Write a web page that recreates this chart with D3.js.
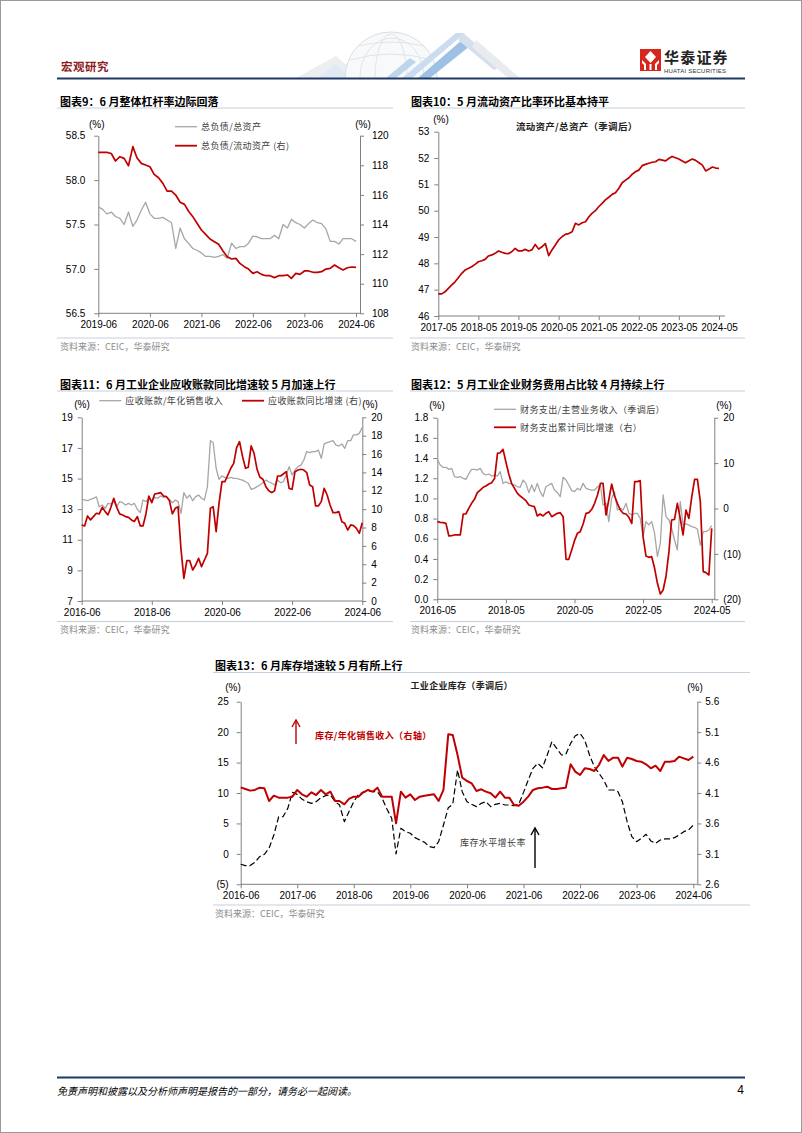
<!DOCTYPE html>
<html><head><meta charset="utf-8">
<script src="https://cdn.jsdelivr.net/npm/d3@7"></script>
<style>
body{margin:0;background:#fff;}
svg{display:block;}
</style></head><body>
<svg id="page" width="802" height="1133"></svg>
<script>
// ---------------- DATA ----------------
// Chart 9 : monthly 2019-06 .. 2024-06
const c9Start = [2019, 6];
const c9Debt2Asset = [57.70,57.67,57.62,57.64,57.59,57.57,57.50,57.64,57.48,57.55,57.66,57.75,57.62,57.57,57.57,57.58,57.55,57.52,57.23,57.46,57.34,57.29,57.23,57.21,57.18,57.14,57.14,57.13,57.14,57.16,57.12,57.29,57.23,57.25,57.25,57.29,57.37,57.36,57.34,57.34,57.34,57.38,57.34,57.50,57.46,57.56,57.52,57.50,57.46,57.51,57.55,57.52,57.51,57.45,57.31,57.31,57.28,57.34,57.34,57.34,57.31];
const c9Debt2Current = [118.87,118.87,118.87,118.8,118.29,118.58,118.47,117.97,119.26,118.51,118.13,118.02,117.9,117.39,117.16,116.78,116.26,116.26,115.99,115.5,115.36,114.91,114.53,114.08,113.63,113.33,113.02,112.84,112.66,112.21,111.82,111.67,111.71,111.37,111.15,110.99,110.70,110.81,110.63,110.54,110.54,110.41,110.54,110.54,110.59,110.36,110.70,110.63,110.86,110.86,110.77,110.77,110.81,110.99,111.04,111.26,111.08,110.93,111.08,111.13,111.1];
const c9LeftTicks = [56.5,57.0,57.5,58.0,58.5];
const c9RightTicks = [108,110,112,114,116,118,120];
const c9XTicks = ["2019-06","2020-06","2021-06","2022-06","2023-06","2024-06"];

// Chart 10 : monthly 2017-05 .. 2024-05
const c10Start = [2017, 5];
const c10Current2Asset = [46.84,46.84,46.92,47.05,47.18,47.30,47.46,47.62,47.75,47.81,47.87,47.96,48.06,48.10,48.15,48.28,48.32,48.38,48.47,48.42,48.38,48.37,48.44,48.57,48.47,48.47,48.53,48.47,48.51,48.72,48.54,48.63,48.75,48.29,48.51,48.70,48.89,49.01,49.10,49.13,49.20,49.52,49.46,49.54,49.58,49.77,49.90,50.00,50.15,50.28,50.41,50.51,50.62,50.68,50.85,51.06,51.16,51.25,51.38,51.48,51.54,51.71,51.76,51.80,51.84,51.86,51.95,51.92,51.89,51.99,52.06,52.01,51.96,51.89,51.82,51.90,51.96,51.91,51.82,51.73,51.51,51.58,51.66,51.62,51.61];
const c10LeftTicks = [46,47,48,49,50,51,52,53];
const c10XTicks = ["2017-05","2018-05","2019-05","2020-05","2021-05","2022-05","2023-05","2024-05"];

// Chart 11 : monthly 2016-06 .. 2024-06
const c11Start = [2016, 6];
const c11Recv2Sales = [13.64,13.6,13.55,13.64,13.7,13.8,13.16,13.27,13.05,13.38,13.34,13.49,13.16,13.49,13.42,13.27,13.38,13.27,13.38,12.99,12.77,13.6,13.49,13.71,13.53,13.77,13.71,13.86,13.77,13.82,13.64,13.42,13.6,13.49,12.73,14.08,13.71,13.92,13.55,13.82,13.92,13.71,13.6,14.47,17.47,17.34,15.67,14.95,15.17,15.08,15.01,15.08,15.01,15.01,14.95,14.9,14.79,14.69,14.29,14.36,14.47,14.58,14.73,14.9,14.79,14.69,14.58,14.9,14.73,14.79,15.23,15.78,15.23,15.56,15.78,15.88,16.21,16.76,16.69,16.76,16.76,16.86,16.32,17.26,17.34,17.41,17.47,17.19,17.13,17.26,16.97,17.47,17.47,17.85,17.85,17.95,18.35];
const c11RecvYoY = [8.28,8.17,9.26,8.83,9.19,9.55,9.48,10.2,9.73,9.37,10.2,11.18,10.2,9.48,9.37,9.19,9.11,8.83,8.65,9.19,8.17,8.17,9.48,11.43,10.71,11.65,11.72,11.8,11.43,11.36,10.93,9.48,10.1,10.27,5.63,2.47,4.39,4.39,3.38,3.92,4.65,3.74,4.46,5.19,10.1,10.27,7.55,10.64,13.0,13.0,13.72,14.45,14.99,16.73,17.35,15.72,14.45,14.56,16.88,16.08,14.34,13.47,13.25,12.45,12.01,11.8,12.01,13.61,13.61,13.83,14.08,12.26,12.16,14.08,14.26,14.34,14.26,13.97,12.63,12.45,10.35,10.35,10.82,12.27,11.54,10.45,9.62,9.62,9.73,8.64,8.46,7.73,8.28,8.21,7.91,7.37,8.53];
const c11LeftTicks = [7,9,11,13,15,17,19];
const c11RightTicks = [0,2,4,6,8,10,12,14,16,18,20];
const c11XTicks = ["2016-06","2018-06","2020-06","2022-06","2024-06"];

// Chart 12 : monthly 2016-05 .. 2024-05
const c12Start = [2016, 5];
const c12Fin2Rev = [1.387,1.331,1.308,1.308,1.288,1.298,1.215,1.209,1.215,1.199,1.189,1.242,1.288,1.288,1.281,1.298,1.248,1.232,1.242,1.222,1.232,1.222,1.265,1.149,1.165,1.149,1.143,1.133,1.116,1.110,1.182,1.149,1.057,1.133,1.067,1.149,1.067,1.017,1.116,1.133,1.149,1.083,1.057,1.017,1.209,1.182,1.133,1.077,1.067,1.100,1.083,1.149,1.100,1.090,1.083,1.083,1.116,1.133,0.935,0.951,0.770,1.001,1.067,0.885,0.902,0.885,0.951,0.852,0.836,0.852,0.852,0.803,0.621,0.770,0.737,0.770,0.654,0.423,0.555,1.034,0.819,0.786,0.704,0.588,0.489,0.968,0.737,0.747,0.737,0.720,0.714,0.694,0.538,0.671,0.671,0.687,0.730];
const c12FinYoY = [-2.9,-3.05,-3.12,-3.27,-6.06,-5.98,-5.83,-5.83,-5.83,-1.21,-1.21,0.04,1.14,2.02,3.49,4.07,4.66,4.95,5.39,5.69,6.64,12.15,12.29,13.03,10.31,7.6,5.54,4.44,3.34,2.75,2.24,1.72,0.77,0.55,0.4,-1.65,-1.21,-1.65,-1.06,-0.7,-1.8,-1.43,-1.06,-0.92,-1.8,-11.19,-11.19,-9.14,-7.08,-5.47,-5.1,-3.41,-1.06,-0.92,-0.18,1.14,2.97,5.54,5.54,-1.43,1.87,5.39,2.75,1.14,-0.33,-1.06,-1.21,-1.94,-3.27,5.91,5.91,6.13,-6.2,-10.46,-10.75,-10.61,-13.17,-16.48,-18.83,-17.95,-14.86,-9.5,-2.53,-2.39,1.14,-2.17,-5.83,-0.33,-2.17,2.46,6.42,6.42,1.5,-13.91,-14.13,-14.64,-4.37];
const c12LeftTicks = [0.0,0.2,0.4,0.6,0.8,1.0,1.2,1.4,1.6,1.8];
const c12RightTicks = [-20,-10,0,10,20];
const c12XTicks = ["2016-05","2018-05","2020-05","2022-05","2024-05"];

// Chart 13 : monthly 2016-06 .. 2024-06
const c13Start = [2016, 6];
const c13InvGrowth = [-1.71,-1.93,-1.93,-1.39,-0.46,-0.07,0.91,3.1,6.1,6.1,7.47,10.1,9.77,9.0,8.57,8.3,8.57,9.23,9.56,9.67,8.57,8.03,5.29,6.93,8.57,9.77,10.1,10.32,10.21,10.21,9.12,7.37,5.84,0.0,4.2,3.65,3.38,2.67,2.28,1.9,1.19,1.03,2.0,4.74,7.59,8.14,13.78,10.21,8.57,8.14,7.76,8.3,8.57,7.76,8.14,8.3,8.03,8.03,7.92,8.14,10.1,12.13,14.05,14.87,14.15,16.24,18.43,17.33,16.24,16.35,18.15,19.41,19.79,18.7,16.24,14.32,13.22,12.13,10.49,10.49,10.21,8.57,5.29,2.83,2.0,2.55,3.21,2.12,1.73,2.28,2.45,2.45,2.67,3.1,3.65,3.92,4.74];
const c13Inv2Sales = [4.193,4.166,4.139,4.150,4.188,4.177,3.969,4.056,4.024,4.024,4.024,4.040,4.150,4.078,4.040,4.111,4.067,4.150,4.078,4.122,3.969,3.969,3.914,4.002,4.040,4.040,4.111,4.150,4.122,4.188,4.040,4.040,4.040,3.602,4.122,4.024,4.078,3.985,4.040,4.056,4.067,4.078,3.969,4.150,5.064,5.053,4.724,4.352,4.297,4.259,4.133,4.161,4.122,4.095,4.024,4.122,4.024,4.024,3.903,3.892,3.958,4.040,4.150,4.177,4.188,4.204,4.166,4.166,4.177,4.188,4.571,4.451,4.396,4.505,4.494,4.462,4.560,4.724,4.626,4.680,4.680,4.533,4.680,4.659,4.626,4.615,4.571,4.505,4.549,4.462,4.615,4.615,4.626,4.697,4.669,4.642,4.697];
const c13LeftTicks = [-5,0,5,10,15,20,25];
const c13RightTicks = [2.6,3.1,3.6,4.1,4.6,5.1,5.6];
const c13XTicks = ["2016-06","2017-06","2018-06","2019-06","2020-06","2021-06","2022-06","2023-06","2024-06"];

// ---------------- HELPERS ----------------
const CJK = '"Noto Sans CJK SC","Noto Sans",sans-serif';
const LAT = '"Liberation Sans",Arial,sans-serif';
const RED = "#C00000", GRAY = "#A6A6A6", AX = "#808080";
const page = d3.select("#page");
const parseYM = d3.timeParse("%Y-%m");
const fmtYM = d3.timeFormat("%Y-%m");
function months(start, n){ return d3.range(n).map(i => new Date(start[0], start[1]-1+i, 1)); }
const paren = v => v < 0 ? "(" + Math.abs(v) + ")" : String(v);
const f1 = d3.format(".1f");

function txt(g, x, y, s, o){
  o = o || {};
  return g.append("text").attr("x", x).attr("y", y).text(s)
    .attr("font-family", o.family || CJK).attr("font-size", o.size || 9)
    .attr("font-weight", o.weight || 400).attr("fill", o.fill || "#000")
    .attr("text-anchor", o.anchor || "start").attr("dominant-baseline", "central")
    .attr("font-style", o.style || "normal")
    .attr("letter-spacing", o.ls || 0);
}
function styleAxis(a){
  a.attr("font-family", LAT).attr("font-size", 10);
  a.select(".domain").attr("stroke", AX);
  a.selectAll(".tick line").attr("stroke", AX);
  a.selectAll(".tick text").attr("fill", "#000");
}
function panelFrame(p){
  const g = page.append("g");
  txt(g, p.tx, p.ty, p.title, {size: 11, weight: 700});
  g.append("line").attr("x1", p.lx0).attr("x2", p.lx1).attr("y1", p.uy).attr("y2", p.uy).attr("stroke", "#C5D0DC").attr("stroke-width", 1);
  g.append("line").attr("x1", p.lx0).attr("x2", p.lx1).attr("y1", p.sy).attr("y2", p.sy).attr("stroke", "#C5D0DC").attr("stroke-width", 1);
  txt(g, p.tx, p.sy + 8, "资料来源：CEIC，华泰研究", {size: 9, fill: "#8C8C8C"});
  return g;
}
function chart(c){
  const g = page.append("g");
  const x = d3.scaleTime().domain([c.dates[0], c.dates[c.dates.length-1]]).range([c.x0, c.x1]);
  const yL = d3.scaleLinear().domain(c.ld).range([c.yb, c.yt]);
  const yR = c.rd ? d3.scaleLinear().domain(c.rd).range([c.yb, c.yt]) : null;
  const la = g.append("g").attr("transform", `translate(${c.x0},0)`)
    .call(d3.axisLeft(yL).tickValues(c.lt).tickFormat(c.lf).tickSize(4).tickSizeOuter(0).tickPadding(c.lp));
  styleAxis(la);
  if (yR){
    const ra = g.append("g").attr("transform", `translate(${c.xe},0)`)
      .call(d3.axisRight(yR).tickValues(c.rt).tickFormat(c.rf).tickSize(4).tickSizeOuter(0).tickPadding(c.rp));
    styleAxis(ra);
  }
  const ba = g.append("g").attr("transform", `translate(0,${c.yb})`)
    .call(d3.axisBottom(x).tickValues(c.xt.map(parseYM)).tickFormat(fmtYM).tickSize(4).tickSizeOuter(0).tickPadding(4));
  styleAxis(ba);
  ba.select(".domain").remove();
  g.append("line").attr("x1", c.x0).attr("x2", c.xe).attr("y1", c.yb).attr("y2", c.yb).attr("stroke", AX);
  c.series.forEach(s => {
    const y = s.axis === "r" ? yR : yL;
    g.append("path").datum(s.values)
      .attr("d", d3.line().x((d, i) => x(c.dates[i])).y(d => y(d)))
      .attr("fill", "none").attr("stroke", s.color).attr("stroke-width", s.width)
      .attr("stroke-dasharray", s.dash || null).attr("stroke-linejoin", "round");
  });
  txt(g, c.ulx, c.uy, "(%)", {family: LAT, size: 10, anchor: "middle"});
  if (c.urx) txt(g, c.urx, c.uy, "(%)", {family: LAT, size: 10, anchor: "middle"});
  return g;
}
function legendItem(g, x, y, color, w, label){
  g.append("line").attr("x1", x).attr("x2", x + 22).attr("y1", y).attr("y2", y).attr("stroke", color).attr("stroke-width", w);
  txt(g, x + 26, y, label, {size: 9, fill: "#404040", ls: 0.4});
}

// ---------------- PAGE HEADER / FOOTER ----------------
page.append("rect").attr("x", 0.5).attr("y", 0.5).attr("width", 801).attr("height", 1132).attr("fill", "#fff").attr("stroke", "#9A9A9A");
const deco = page.append("g").attr("opacity", 0.75);
deco.append("path").attr("d", "M296,78 L336,56 L362,78 Z").attr("fill", "#E6EAEE");
deco.append("path").attr("d", "M318,78 L336,64 L350,78 Z").attr("fill", "#D5E3F1");
deco.append("path").attr("d", "M345,78 A46,46 0 0 1 437,78").attr("fill", "#F6F8FA").attr("stroke", "#CDD4DC");
deco.append("path").attr("d", "M360,78 A32,40 0 0 1 424,78").attr("fill", "none").attr("stroke", "#D6DCE2");
deco.append("path").attr("d", "M375,78 A16,44 0 0 1 407,78").attr("fill", "none").attr("stroke", "#D6DCE2");
deco.append("path").attr("d", "M350,60 Q391,48 432,60").attr("fill", "none").attr("stroke", "#D6DCE2");
deco.append("path").attr("d", "M358,46 Q391,38 424,46").attr("fill", "none").attr("stroke", "#D6DCE2");
deco.append("path").attr("d", "M402,78 L456,33 L465,33 L412,78 Z").attr("fill", "#B9D2EB");
deco.append("path").attr("d", "M418,78 L462,40 L470,46 L430,78 Z").attr("fill", "#7DACDB");
deco.append("path").attr("d", "M463,33 L502,66 L494,70 L458,40 Z").attr("fill", "#C9D6E3");
deco.append("path").attr("d", "M476,40 L520,78 L508,78 L472,47 Z").attr("fill", "#E1E5EA");
deco.append("path").attr("d", "M386,78 L410,58 L416,62 L396,78 Z").attr("fill", "#A9C7E6");

txt(page, 61, 66, "宏观研究", {size: 11.5, weight: 700, fill: "#8C1C1C", ls: 0.5});
const logo = page.append("g");
logo.append("rect").attr("x", 640).attr("y", 49).attr("width", 21).attr("height", 22).attr("fill", "#D7261E");
logo.append("path").attr("d", "M650.5,51 L656,57 L650.5,63 L645,57 Z").attr("fill", "#fff");
logo.append("path").attr("d", "M642,60 L646,64 L646,70 L644,70 L644,65 L642,63 Z").attr("fill", "#fff");
logo.append("path").attr("d", "M659,60 L655,64 L655,70 L657,70 L657,65 L659,63 Z").attr("fill", "#fff");
logo.append("rect").attr("x", 649.5).attr("y", 64).attr("width", 2).attr("height", 6).attr("fill", "#fff");
txt(logo, 664, 56.5, "华泰证券", {size: 15, weight: 700, fill: "#222", ls: 1.2});
txt(logo, 664, 70.5, "HUATAI SECURITIES", {family: LAT, size: 6, fill: "#333", ls: 0.2});
page.append("line").attr("x1", 57).attr("x2", 745).attr("y1", 78.5).attr("y2", 78.5).attr("stroke", "#1F3864").attr("stroke-width", 2);

page.append("line").attr("x1", 57).attr("x2", 745).attr("y1", 1077.5).attr("y2", 1077.5).attr("stroke", "#1F3864").attr("stroke-width", 2);
txt(page, 57, 1090, "免责声明和披露以及分析师声明是报告的一部分，请务必一起阅读。", {size: 10, style: "italic", fill: "#000"});
txt(page, 744, 1090, "4", {family: LAT, size: 12, anchor: "end"});

// ---------------- CHART 9 ----------------
panelFrame({tx: 60, ty: 100.5, title: "图表9：6 月整体杠杆率边际回落", lx0: 57, lx1: 393, uy: 108, sy: 338});
const c9g = chart({
  dates: months(c9Start, c9Debt2Asset.length), x0: 98.3, x1: 356, xe: 360, yt: 135.7, yb: 313.3,
  ld: [56.5, 58.5], lt: c9LeftTicks, lf: f1, lp: 9,
  rd: [108, 120], rt: c9RightTicks, rf: d => d, rp: 8,
  xt: c9XTicks, ulx: 96.7, urx: 363, uy: 124.5,
  series: [
    {values: c9Debt2Asset, axis: "l", color: GRAY, width: 1.3},
    {values: c9Debt2Current, axis: "r", color: RED, width: 1.7}
  ]
});
legendItem(c9g, 175, 126.7, GRAY, 1.3, "总负债/总资产");
legendItem(c9g, 175, 145.7, RED, 1.8, "总负债/流动资产 (右)");

// ---------------- CHART 10 ----------------
panelFrame({tx: 411, ty: 100.5, title: "图表10：5 月流动资产比率环比基本持平", lx0: 410, lx1: 745, uy: 108, sy: 338});
const c10g = chart({
  dates: months(c10Start, c10Current2Asset.length), x0: 438.3, x1: 719, xe: 725, yt: 131.7, yb: 316,
  ld: [46, 53], lt: c10LeftTicks, lf: d => d, lp: 5,
  xt: c10XTicks, ulx: 441, uy: 119.5,
  series: [{values: c10Current2Asset, axis: "l", color: RED, width: 1.7}]
});
txt(c10g, 576.7, 125.7, "流动资产/总资产（季调后）", {size: 9.5, weight: 700, anchor: "middle", fill: "#222", ls: 0.3});

// ---------------- CHART 11 ----------------
panelFrame({tx: 60, ty: 383.5, title: "图表11：6 月工业企业应收账款同比增速较 5 月加速上行", lx0: 57, lx1: 393, uy: 391, sy: 621.5});
const c11g = chart({
  dates: months(c11Start, c11Recv2Sales.length), x0: 81.7, x1: 362.3, xe: 362.3, yt: 417.3, yb: 601,
  ld: [7, 19], lt: c11LeftTicks, lf: d => d, lp: 5,
  rd: [0, 20], rt: c11RightTicks, rf: d => d, rp: 5,
  xt: c11XTicks, ulx: 82, urx: 370, uy: 404,
  series: [
    {values: c11Recv2Sales, axis: "l", color: GRAY, width: 1.3},
    {values: c11RecvYoY, axis: "r", color: RED, width: 1.7}
  ]
});
legendItem(c11g, 99.3, 400.7, GRAY, 1.3, "应收账款/年化销售收入");
legendItem(c11g, 242, 400.7, RED, 1.8, "应收账款同比增速 (右)");

// ---------------- CHART 12 ----------------
panelFrame({tx: 411, ty: 383.5, title: "图表12：5 月工业企业财务费用占比较 4 月持续上行", lx0: 410, lx1: 745, uy: 391, sy: 621.5});
const c12g = chart({
  dates: months(c12Start, c12Fin2Rev.length), x0: 437.3, x1: 711.7, xe: 714.3, yt: 417.7, yb: 599.3,
  ld: [0, 1.8], lt: c12LeftTicks, lf: f1, lp: 5,
  rd: [-20, 20], rt: c12RightTicks, rf: paren, rp: 5,
  xt: c12XTicks, ulx: 437, urx: 724, uy: 405,
  series: [
    {values: c12Fin2Rev, axis: "l", color: GRAY, width: 1.3},
    {values: c12FinYoY, axis: "r", color: RED, width: 1.7}
  ]
});
legendItem(c12g, 494, 409.3, GRAY, 1.3, "财务支出/主营业务收入（季调后）");
legendItem(c12g, 494, 427.3, RED, 1.8, "财务支出累计同比增速（右）");

// ---------------- CHART 13 ----------------
panelFrame({tx: 215, ty: 665, title: "图表13：6 月库存增速较 5 月有所上行", lx0: 213, lx1: 750, uy: 672.5, sy: 905});
const c13g = chart({
  dates: months(c13Start, c13InvGrowth.length), x0: 240.7, x1: 693.3, xe: 697.3, yt: 701.7, yb: 884.3,
  ld: [-5, 25], lt: c13LeftTicks, lf: paren, lp: 8,
  rd: [2.6, 5.6], rt: c13RightTicks, rf: f1, rp: 4,
  xt: c13XTicks, ulx: 233, urx: 695, uy: 687.5,
  series: [
    {values: c13InvGrowth, axis: "l", color: "#000", width: 1.2, dash: "6,3"},
    {values: c13Inv2Sales, axis: "r", color: RED, width: 2}
  ]
});
txt(c13g, 461.7, 685.7, "工业企业库存（季调后）", {size: 9, weight: 700, anchor: "middle", fill: "#222", ls: 0.3});
function arrow(g, x, y0, y1, color){
  g.append("line").attr("x1", x).attr("x2", x).attr("y1", y0).attr("y2", y1).attr("stroke", color).attr("stroke-width", 1.4);
  g.append("path").attr("d", `M${x-4},${y1+7} L${x},${y1} L${x+4},${y1+7}`).attr("fill", "none").attr("stroke", color).attr("stroke-width", 1.4);
}
arrow(c13g, 296, 744, 720, RED);
txt(c13g, 315, 735, "库存/年化销售收入（右轴）", {size: 9, weight: 700, fill: RED, ls: 0.4});
arrow(c13g, 535, 868, 828, "#000");
txt(c13g, 460, 842.5, "库存水平增长率", {size: 9, fill: "#404040", ls: 0.4});
</script>
</body></html>
